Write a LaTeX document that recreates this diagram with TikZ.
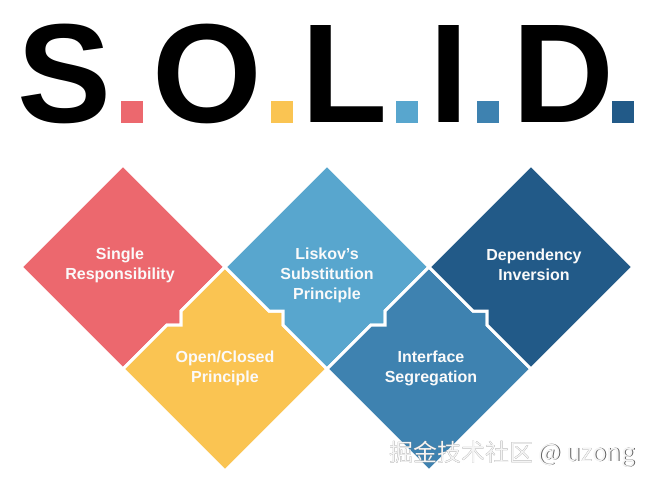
\documentclass[tikz,border=0pt]{standalone}
\usepackage{fontspec}
\setmainfont{Liberation Sans}
\newfontfamily\cjk{Noto Sans CJK SC}
\usepackage{tikz}
\definecolor{solidred}{RGB}{236,104,110}
\definecolor{solidyellow}{RGB}{250,196,82}
\definecolor{solidlight}{RGB}{88,166,206}
\definecolor{solidmid}{RGB}{62,130,176}
\definecolor{soliddark}{RGB}{34,90,136}
\tikzset{
    tile/.style={draw=white, line width=3pt, line join=miter},
    letter/.style={anchor=base, inner sep=0pt, font=\fontsize{141}{141}\selectfont\bfseries},
    label/.style={align=center, text=white!96!gray, font=\fontsize{16}{20}\selectfont\bfseries}
}

\begin{document}
\begin{tikzpicture}[x=1pt, y=-1pt]
    \useasboundingbox (0, 0) rectangle (653, 485);
    % title
    \node[letter] (s) at (65, 122) {S};
    \node[letter] (o) at (207, 122) {O};
    \node[letter] (l) at (344.5, 122) {L};
    \node[letter] (i) at (449.5, 122) {I};
    \node[letter] (d) at (563.5, 122) {D};
    \fill[solidred](121, 101)rectangle(143, 123);
    \fill[solidyellow](271, 101)rectangle(293, 123);
    \fill[solidlight](396, 101)rectangle(418, 123);
    \fill[solidmid](477, 101)rectangle(499, 123);
    \fill[soliddark](612, 101)rectangle(634, 123);
    % tiles
    \filldraw[tile, fill=solidred](123, 165)--(225, 267)--(181, 311)--(181, 325)--(167, 325)--(123, 369)--(21, 267)--cycle;
    \filldraw[tile, fill=solidyellow](225, 267)--(269, 311)--(283, 311)--(283, 325)--(327, 369)--(225, 471)--(123, 369)--(167, 325)--(181, 325)--(181, 311)--cycle;
    \filldraw[tile, fill=solidlight](327, 165)--(429, 267)--(385, 311)--(385, 325)--(371, 325)--(327, 369)--(283, 325)--(283, 311)--(269, 311)--(225, 267)--cycle;
    \filldraw[tile, fill=solidmid](429, 267)--(473, 311)--(487, 311)--(487, 325)--(531, 369)--(429, 471)--(327, 369)--(371, 325)--(385, 325)--(385, 311)--cycle;
    \filldraw[tile, fill=soliddark](531, 165)--(633, 267)--(531, 369)--(487, 325)--(487, 311)--(473, 311)--(429, 267)--cycle;
    \node[label] (srp) at (120, 265) {Single\\Responsibility};
    \node[label] (ocp) at (225, 368) {Open/Closed\\Principle};
    \node[label] (lsp) at (327, 275) {Liskov\char"0027s\\Substitution\\Principle};
    \node[label] (isp) at (431, 368) {Interface\\Segregation};
    \node[label] (dip) at (534, 265) {Dependency\\Inversion};
    % watermark
    \node[text=gray!75!black, font=\fontsize{24}{24}\selectfont] (wmshadow) at (512.8, 454.8) {\cjk 掘金技术社区 @ uzong};
    \node[text=gray!8, font=\fontsize{24}{24}\selectfont] (watermark) at (512, 454) {\cjk 掘金技术社区 @ uzong};
\end{tikzpicture}
\end{document}
